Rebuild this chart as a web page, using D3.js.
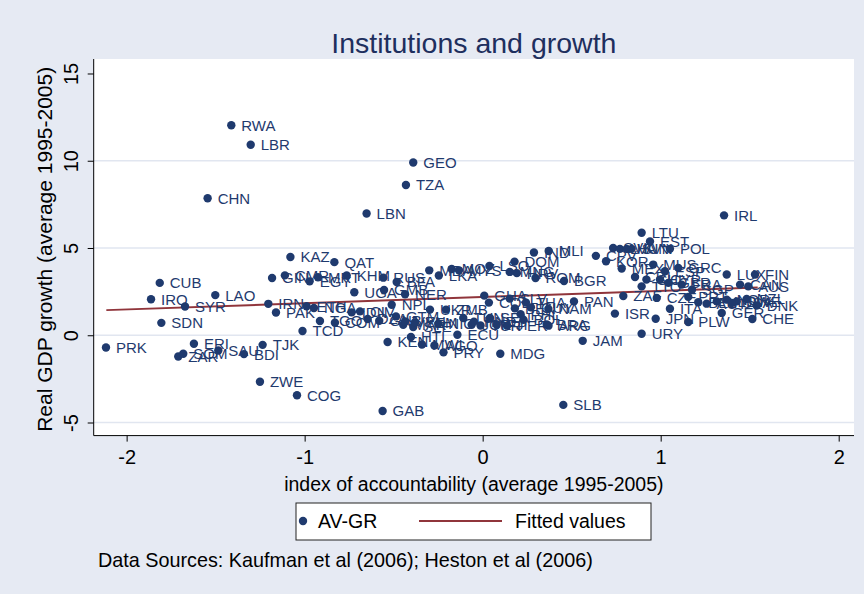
<!DOCTYPE html>
<html>
<head>
<meta charset="utf-8">
<script src="https://cdn.jsdelivr.net/npm/d3@7"></script>
<style>
  html, body { margin: 0; padding: 0; background: #e6eaf3; }
  svg { display: block; font-family: Arial, "Liberation Sans", sans-serif; }
</style>
</head>
<body>
<svg id="chart" width="864" height="594"></svg>
<script>
// ---- data ----
const codes = [
 "PRK","IRQ","CUB","SDN","SYR","CHN","LAO","ERI","ZAR","SOM","SAU","BDI","TJK","ZWE","COG","RWA","LBR",
 "KAZ","IRN","PAK","GIN","CMR","TCD","EGY","MRT","QAT","TGO","COM","ETH","NGA","IDN","CIV","DZA","GNB",
 "KHM","UGA","RUS","BFA","GMB","NER","NPL","GTM","MAR","VEN","HTI","SLE","YEM","KEN","MWI","AGO","PRY",
 "MDG","ECU","GAB","GEO","TZA","LBN","MDA","LKA","MOZ","MYS","LSO","DOM","HRV","ROM","BGR","IND","MLI",
 "CPV","KOR","GHA","UKR","ZMB","NIC","TUN","JOR","SEN","FJI","PAN","NAM","ARG","BRA","ISR","ZAF","JAM",
 "SLB","URY","LTU","EST","POL","IRL","LUX","FIN","DNK","CHE","GER","PLW","JPN","ITA","CZE","SVK","LVA",
 "HUN","SVN","MEX","CRI","MUS","ESP","GRC","CHL","CYP","TTO","GBR","FRA","PRT","BEL","AUT","NLD","NOR",
 "SWE","NZL","USA","CAN","AUS","SGP","MNG","BEN","PHL","THA","SLV","BOL","HND","TUR","GUY","PER","COL"
];
const accountability = [
 -2.116,-1.863,-1.814,-1.805,-1.672,-1.545,-1.502,-1.622,-1.710,-1.682,-1.485,-1.341,-1.236,-1.251,-1.043,-1.412,-1.303,
 -1.080,-1.204,-1.161,-1.183,-1.111,-1.012,-0.972,-0.925,-0.833,-0.914,-0.830,-0.989,-0.948,-0.736,-0.689,-0.646,-0.581,
 -0.764,-0.721,-0.558,-0.483,-0.554,-0.436,-0.511,-0.487,-0.446,-0.436,-0.403,-0.390,-0.380,-0.534,-0.341,-0.271,-0.220,
 0.099,-0.142,-0.562,-0.390,-0.431,-0.652,-0.300,-0.246,-0.174,-0.133,0.038,0.179,0.192,0.297,0.457,0.288,0.371,
 0.636,0.693,0.009,-0.296,-0.206,-0.249,-0.109,-0.062,0.041,0.079,0.513,0.369,0.370,0.360,0.743,0.790,0.562,
 0.453,0.893,0.893,0.940,1.052,1.356,1.371,1.530,1.539,1.515,1.343,1.155,0.972,1.052,0.978,0.733,0.771,
 0.809,0.837,0.781,0.856,0.958,1.024,1.099,0.920,0.996,0.893,1.043,1.118,1.155,1.211,1.258,1.315,1.371,
 1.427,1.483,1.399,1.446,1.492,1.176,0.152,0.181,0.213,0.243,0.152,0.229,-0.049,-0.012,0.271,0.137,0.035
];
const growth = [
 -0.70,2.06,3.00,0.71,1.65,7.85,2.30,-0.49,-1.22,-1.06,-0.87,-1.08,-0.55,-2.66,-3.44,12.03,10.92,
 4.48,1.80,1.30,3.28,3.43,0.24,3.09,3.32,4.19,0.82,0.72,1.66,1.56,1.31,1.37,0.93,0.83,
 3.42,2.46,3.30,3.05,2.59,2.35,1.75,1.08,0.60,0.79,-0.10,0.47,0.74,-0.39,-0.53,-0.59,-0.98,
 -1.06,0.03,-4.34,9.90,8.61,6.98,3.72,3.42,3.80,3.72,3.97,4.22,3.56,3.28,3.11,4.74,4.83,
 4.55,4.24,2.27,1.47,1.47,0.66,0.99,0.60,0.99,0.60,1.94,1.51,0.55,0.62,1.24,2.25,-0.32,
 -3.99,0.09,5.87,5.37,4.95,6.87,3.48,3.48,1.70,0.93,1.28,0.76,0.95,1.52,2.14,5.00,4.95,
 4.95,4.95,3.82,3.34,4.05,3.67,3.86,3.19,3.19,2.80,3.00,2.90,2.20,1.89,1.81,1.94,2.04,
 1.94,2.08,1.85,2.90,2.80,2.61,3.63,1.54,1.21,1.87,2.10,0.89,0.78,0.56,1.60,0.55,1.87,0.52
];
// fitted regression line (endpoints)
const fitX = [-2.114, 1.545];
const fitY = [1.44, 2.74];
const xTicks = [-2, -1, 0, 1, 2];
const yTicks = [-5, 0, 5, 10, 15];
const gridValues = [-5, 0, 5, 10];

const points = codes.map((c, i) => ({code: c, x: accountability[i], y: growth[i]}));
const fitted = fitX.map((x, i) => ({x: x, y: fitY[i]}));

// ---- layout ----
const W = 864, H = 594;
const plot = {left: 93.7, right: 854, top: 59, bottom: 435.6};
const navy = "#1f3a6e", maroon = "#90353b";

const svg = d3.select("#chart");
svg.append("rect").attr("x", 0).attr("y", 0).attr("width", W).attr("height", H).attr("fill", "#e6eaf3");
svg.append("rect").attr("x", plot.left).attr("y", plot.top)
   .attr("width", plot.right - plot.left).attr("height", plot.bottom - plot.top).attr("fill", "#ffffff");

const x = d3.scaleLinear().domain([-2.185, 2.086]).range([plot.left, plot.right]);
const y = d3.scaleLinear().domain([-5.75, 15.83]).range([plot.bottom, plot.top]);

// gridlines
svg.append("g").selectAll("line").data(gridValues).join("line")
  .attr("x1", plot.left).attr("x2", plot.right)
  .attr("y1", d => y(d)).attr("y2", d => y(d))
  .attr("stroke", "#e1e6f0").attr("stroke-width", 1.6);

// axes
const xAxis = d3.axisBottom(x).tickValues(xTicks).tickSize(6).tickPadding(8).tickFormat(d3.format("d"));
const gx = svg.append("g").attr("transform", `translate(0,${plot.bottom})`).call(xAxis);
gx.select(".domain").attr("d", `M${plot.left},0H${plot.right}`).attr("stroke", "#000");
gx.selectAll(".tick line").attr("stroke", "#000");
gx.selectAll(".tick text").attr("font-size", 20).attr("fill", "#000")
  .text(d => d < 0 ? "-" + Math.abs(d) : d);

const yAxis = d3.axisLeft(y).tickValues(yTicks).tickSize(6).tickFormat(d3.format("d"));
const gy = svg.append("g").attr("transform", `translate(${plot.left},0)`).call(yAxis);
gy.select(".domain").attr("d", `M0,${plot.top}V${plot.bottom}`).attr("stroke", "#000");
gy.selectAll(".tick line").attr("stroke", "#000");
gy.selectAll(".tick text").remove();
gy.selectAll(".tick").append("text")
  .attr("transform", "translate(-16,0) rotate(-90)")
  .attr("text-anchor", "middle").attr("dy", "0em")
  .attr("font-size", 20).attr("fill", "#000")
  .text(d => d < 0 ? "-" + Math.abs(d) : d);

// fitted line
svg.append("path").datum(fitted)
  .attr("d", d3.line().x(d => x(d.x)).y(d => y(d.y)))
  .attr("fill", "none").attr("stroke", maroon).attr("stroke-width", 2);

// points and labels
const pg = svg.append("g");
pg.selectAll("circle").data(points).join("circle")
  .attr("cx", d => x(d.x)).attr("cy", d => y(d.y)).attr("r", 4.2).attr("fill", navy);
pg.selectAll("text").data(points).join("text")
  .attr("x", d => x(d.x) + 10).attr("y", d => y(d.y)).attr("dy", "0.36em")
  .attr("font-size", 15).attr("fill", navy).text(d => d.code);

// title and axis titles
svg.append("text").attr("x", (plot.left + plot.right) / 2).attr("y", 53)
  .attr("text-anchor", "middle").attr("font-size", 28.5).attr("fill", "#1e2f5e")
  .text("Institutions and growth");
svg.append("text").attr("x", (plot.left + plot.right) / 2).attr("y", 491)
  .attr("text-anchor", "middle").attr("font-size", 19.5).attr("fill", "#000")
  .text("index of accountability (average 1995-2005)");
svg.append("text").attr("transform", `translate(52,${(plot.top + plot.bottom) / 2 + 2}) rotate(-90)`)
  .attr("text-anchor", "middle").attr("font-size", 21).attr("fill", "#000")
  .text("Real GDP growth (average 1995-2005)");

// legend
const lg = svg.append("g");
lg.append("rect").attr("x", 296).attr("y", 503).attr("width", 355).attr("height", 37)
  .attr("fill", "#fff").attr("stroke", "#222").attr("stroke-width", 1);
lg.append("circle").attr("cx", 303).attr("cy", 521).attr("r", 4.2).attr("fill", navy);
lg.append("text").attr("x", 318).attr("y", 528).attr("font-size", 19.5).attr("fill", "#000").text("AV-GR");
lg.append("line").attr("x1", 419).attr("x2", 502).attr("y1", 521).attr("y2", 521)
  .attr("stroke", maroon).attr("stroke-width", 2);
lg.append("text").attr("x", 515).attr("y", 528).attr("font-size", 19.5).attr("fill", "#000").text("Fitted values");

// note
svg.append("text").attr("x", 98).attr("y", 567).attr("font-size", 19.8).attr("fill", "#000")
  .text("Data Sources: Kaufman et al (2006); Heston et al (2006)");
</script>
</body>
</html>
